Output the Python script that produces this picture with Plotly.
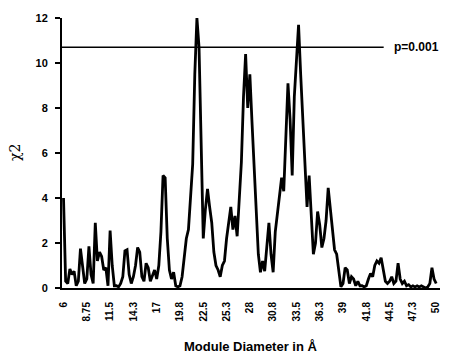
import plotly.graph_objects as go

# Module diameter (Å), 0.25 Å steps from 6 to 50
diameter = [6 + 0.25 * i for i in range(177)]
chi2 = [
    4.0, 0.3, 0.2, 0.85, 0.6, 0.75, 0.1, 0.3, 1.75, 1.0, 0.2, 0.4,      # 6.00 - 8.75
    1.85, 0.6, 0.2, 2.9, 1.2, 1.6, 1.4, 0.8, 0.9, 0.1, 2.55, 1.0,       # 9.00 - 11.75
    0.1, 0.1, 0.05, 0.2, 0.5, 1.65, 1.7, 0.6, 0.2, 0.5, 1.0, 1.8,       # 12.00 - 14.75
    1.6, 0.5, 0.3, 1.1, 0.9, 0.3, 0.6, 0.8, 0.4, 1.0, 2.5, 5.0,         # 15.00 - 17.75
    4.9, 2.2, 0.8, 0.4, 0.7, 0.1, 0.05, 0.1, 0.5, 1.3, 2.2, 2.6,        # 18.00 - 20.75
    4.3, 5.5, 9.5, 12.0, 10.7, 6.0, 2.2, 3.5, 4.4, 3.6, 2.9, 1.6,       # 21.00 - 23.75
    1.0, 0.8, 0.5, 1.0, 1.2, 2.2, 3.0, 3.6, 2.6, 3.2, 2.3, 4.3,         # 24.00 - 26.75
    5.6, 8.5, 10.4, 8.0, 9.5, 7.4, 5.5, 3.0, 1.5, 0.7, 1.2, 0.75,       # 27.00 - 29.75
    2.0, 2.9, 1.5, 0.7, 2.5, 3.4, 4.0, 4.9, 4.3, 7.0, 9.1, 7.5,         # 30.00 - 32.75
    5.0, 8.5, 10.0, 11.7, 9.5, 7.5, 5.4, 3.6, 5.0, 3.0, 1.5, 2.0,       # 33.00 - 35.75
    3.4, 2.8, 1.8, 2.2, 3.0, 4.45, 3.5, 2.6, 1.7, 1.5, 0.7, 0.05,       # 36.00 - 38.75
    0.2, 0.9, 0.8, 0.2, 0.5, 0.4, 0.1, 0.3, 0.1, 0.1, 0.05, 0.1,        # 39.00 - 41.75
    0.4, 0.65, 0.5, 1.0, 1.2, 1.1, 1.35, 0.8, 0.3, 0.2, 0.3, 0.5,       # 42.00 - 44.75
    0.2, 0.3, 1.1, 0.4, 0.2, 0.3, 0.1, 0.15, 0.05, 0.1, 0.05, 0.1,      # 45.00 - 47.75
    0.05, 0.1, 0.05, 0.0, 0.05, 0.2, 0.9, 0.4, 0.2,                     # 48.00 - 50.00
]

x_tick_vals = [6, 8.75, 11.5, 14.25, 17, 19.75, 22.5, 25.25, 28, 30.75,
               33.5, 36.25, 39, 41.75, 44.5, 47.25, 50]
x_tick_text = ["6", "8.75", "11.5", "14.3", "17", "19.8", "22.5", "25.3", "28",
               "30.8", "33.5", "36.3", "39", "41.8", "44.5", "47.3", "50"]
y_tick_vals = [0, 2, 4, 6, 8, 10, 12]
y_tick_text = ["0", "2", "4", "6", "8", "10", "12"]

threshold = 10.7
threshold_end = 43.8
threshold_label = "p=0.001"

font_family = "Liberation Sans, Arial, sans-serif"

fig = go.Figure()
fig.add_trace(go.Scatter(
    x=diameter, y=chi2, mode="lines",
    line=dict(color="black", width=2.8),
    showlegend=False, hoverinfo="skip",
))

fig.add_shape(type="line", xref="x", yref="y",
              x0=diameter[0] - 0.2, x1=threshold_end, y0=threshold, y1=threshold,
              line=dict(color="black", width=1.6))
fig.add_annotation(x=threshold_end, y=threshold, xref="x", yref="y",
                   text="<b>" + threshold_label + "</b>", showarrow=False,
                   xanchor="left", yanchor="middle", xshift=8,
                   font=dict(family=font_family, size=12, color="black"))

fig.add_annotation(xref="paper", yref="paper", x=0.5, y=0, yanchor="middle",
                   yshift=-58, text="<b>Module Diameter in Å</b>", showarrow=False,
                   font=dict(family=font_family, size=13, color="black"))
fig.add_annotation(xref="paper", yref="paper", x=0, y=0.5, xanchor="center",
                   xshift=-47, textangle=-90, text="χ2", showarrow=False,
                   font=dict(family="DejaVu Serif, serif", size=14, color="black"))

fig.update_layout(
    width=453, height=356,
    margin=dict(l=62, r=13, t=16, b=68),
    paper_bgcolor="white", plot_bgcolor="white",
    font=dict(family=font_family, color="black"),
)
fig.update_xaxes(
    range=[5.82, 50.45], showgrid=False, zeroline=False,
    showline=True, linecolor="black", linewidth=2,
    tickmode="array", tickvals=x_tick_vals, ticktext=["<b>%s</b>" % t for t in x_tick_text],
    tickangle=-90, ticks="", tickfont=dict(family=font_family, size=10, color="black"),
    ticklabelstandoff=8,
)
fig.update_yaxes(
    range=[0, 12], showgrid=False, zeroline=False,
    showline=True, linecolor="black", linewidth=2,
    tickmode="array", tickvals=y_tick_vals, ticktext=["<b>%s</b>" % t for t in y_tick_text],
    ticks="outside", ticklen=5, tickwidth=2, tickcolor="black",
    tickfont=dict(family=font_family, size=11, color="black"),
    ticklabelstandoff=5,
)

fig.write_html("out.html")
